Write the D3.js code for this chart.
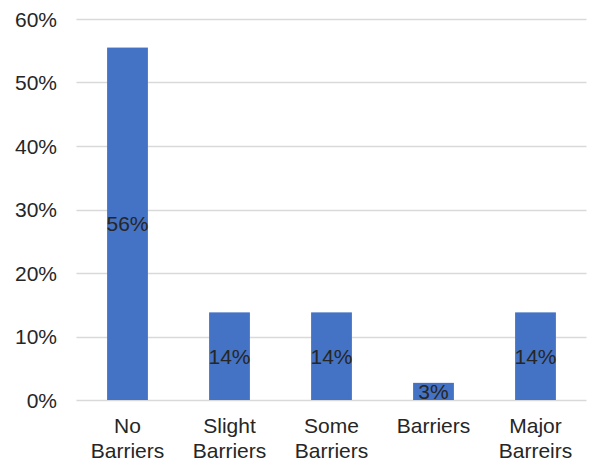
<!DOCTYPE html>
<html>
<head>
<meta charset="utf-8">
<script src="https://cdn.jsdelivr.net/npm/d3@7"></script>
<style>
  html, body { margin: 0; padding: 0; background: #fff; }
  svg { display: block; }
  text { font-family: "Liberation Sans", Arial, sans-serif; }
</style>
</head>
<body>
<svg id="chart" width="589" height="461"></svg>
<script>
const categories = [["No", "Barriers"], ["Slight", "Barriers"], ["Some", "Barriers"], ["Barriers"], ["Major", "Barreirs"]];
const values = [0.555, 0.138, 0.138, 0.027, 0.138];
const dataLabels = ["56%", "14%", "14%", "3%", "14%"];
const yTicks = [0, 0.1, 0.2, 0.3, 0.4, 0.5, 0.6];

const svg = d3.select("#chart");
const margin = { left: 76.5, right: 2.5, top: 19, bottom: 61 };
const W = 589, H = 461;
const FS = 21;

const x = d3.scaleBand()
  .domain(d3.range(categories.length))
  .range([margin.left, W - margin.right])
  .paddingInner(0.6)
  .paddingOuter(0.3);

const y = d3.scaleLinear()
  .domain([0, 0.6])
  .range([H - margin.bottom, margin.top]);

// gridlines
svg.append("g")
  .selectAll("line")
  .data(yTicks)
  .join("line")
  .attr("x1", margin.left)
  .attr("x2", W - margin.right)
  .attr("y1", d => Math.round(y(d)) + 0.5)
  .attr("y2", d => Math.round(y(d)) + 0.5)
  .attr("stroke", "#d9d9d9")
  .attr("stroke-width", 1.5);

// y axis labels
const yAxis = d3.axisLeft(y).tickValues(yTicks).tickFormat(d3.format(".0%")).tickSize(0).tickPadding(0);
const gy = svg.append("g").attr("transform", `translate(57,0)`).call(yAxis);
gy.select(".domain").remove();
gy.selectAll("text")
  .attr("font-size", FS)
  .attr("fill", "#262626")
  .attr("font-family", "Liberation Sans, Arial, sans-serif")
  .attr("dy", "0.35em");

// bars
svg.append("g")
  .selectAll("rect")
  .data(values)
  .join("rect")
  .attr("x", (d, i) => x(i))
  .attr("y", d => y(d))
  .attr("width", x.bandwidth())
  .attr("height", d => y(0) - y(d))
  .attr("fill", "#4472c4");

// data labels
svg.append("g")
  .selectAll("text")
  .data(values)
  .join("text")
  .attr("x", (d, i) => x(i) + x.bandwidth() / 2)
  .attr("y", d => (y(d) + y(0)) / 2)
  .attr("dy", "0.35em")
  .attr("text-anchor", "middle")
  .attr("font-size", FS)
  .attr("fill", "#262626")
  .text((d, i) => dataLabels[i]);

// x axis labels
const xl = svg.append("g")
  .selectAll("text")
  .data(categories)
  .join("text")
  .attr("x", (d, i) => x(i) + x.bandwidth() / 2)
  .attr("y", 433)
  .attr("text-anchor", "middle")
  .attr("font-size", FS)
  .attr("fill", "#262626");
xl.selectAll("tspan")
  .data(d => d)
  .join("tspan")
  .attr("x", function() { return this.parentNode.getAttribute("x"); })
  .attr("dy", (d, i) => i === 0 ? 0 : 25)
  .text(d => d);
</script>
</body>
</html>
